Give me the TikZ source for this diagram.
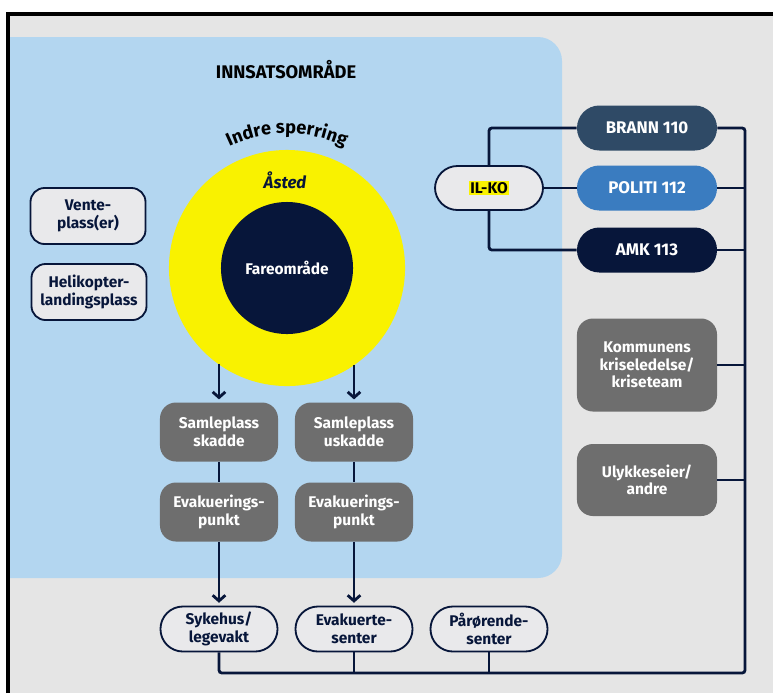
\documentclass[tikz,border=0pt]{standalone}
\usepackage{fontspec}
\setmainfont{Fira Sans}
\usepackage{xcolor}
\usepackage{tikz}
\usetikzlibrary{arrows.meta, positioning, calc, decorations.text}
\definecolor{marine}{RGB}{7,22,58}
\definecolor{lysblaa}{RGB}{179,214,240}
\definecolor{bakgrunn}{RGB}{229,229,229}
\definecolor{gulsone}{RGB}{249,242,0}
\definecolor{graaboks}{RGB}{110,110,110}
\definecolor{lysboks}{RGB}{233,233,235}
\definecolor{brannfarge}{RGB}{47,74,102}
\definecolor{politifarge}{RGB}{58,124,192}

\begin{document}
\begin{tikzpicture}[x=0.025cm, y=0.025cm,
      linje/.style={draw=marine, line width=2pt, rounded corners=2pt},
      pil/.style={linje, -{Straight Barb[length=4pt, width=9pt]}, shorten >=2pt},
      graa/.style={fill=graaboks, text=white, rounded corners=0.4cm,
                   minimum width=2.95cm, minimum height=1.475cm, align=center,
                   inner sep=2pt, font=\fontsize{11}{12.5}\selectfont\bfseries},
      lys/.style={fill=lysboks, draw=marine, line width=1.3pt, text=marine,
                  rounded corners=0.35cm, minimum width=2.875cm,
                  minimum height=1.4cm, align=center, inner sep=2pt,
                  font=\fontsize{11}{12.5}\selectfont\bfseries},
      pille/.style={lys, rounded corners=0.56cm, minimum width=2.925cm,
                    minimum height=1.125cm},
      tjeneste/.style={fill=#1, text=white, rounded corners=0.56cm,
                       minimum width=3.5cm, minimum height=1.125cm,
                       font=\fontsize{12}{14}\selectfont\bfseries}]
    \useasboundingbox (0,0) rectangle (773,-693);
    \fill[bakgrunn] (8,-14) rectangle (773,-693);
    \draw[line width=2.8pt] (8,-693) -- (8,-14) -- (773,-14);
    \fill[lysblaa] (10,-37) [rounded corners=0.6cm] -- (562,-37) -- (562,-578)
      [sharp corners] -- (10,-578) -- cycle;
    \node[font=\fontsize{13}{15}\selectfont\bfseries] (tittel) at (286,-70) {INNSATSOMRÅDE};

    \node[circle, fill=gulsone, minimum size=5.9cm, inner sep=0pt] (asted) at (287,-268) {};
    \node[circle, fill=marine, minimum size=3.3cm, inner sep=0pt, text=white,
          font=\fontsize{11}{13}\selectfont\bfseries] (fare) at (asted) {Fareområde};
    \node[font=\fontsize{12}{14}\selectfont\bfseries\itshape, text=marine] (astedtekst) at (285,-180) {Åsted};
    \path[decorate, decoration={text along path, text align=center,
          text={|\fontsize{13}{15}\selectfont\bfseries|Indre sperring}}]
      ($(asted)+(150:3.36cm)$) arc[start angle=150, end angle=30, radius=3.36cm];

    \node[lys] (vente) at (88,-216) {Vente-\\plass(er)};
    \node[lys] (heli) at (89,-292) {Helikopter-\\landingsplass};

    \node[graa] (samle1) at (219,-432) {Samleplass\\skadde};
    \node[graa] (samle2) at (354,-432) {Samleplass\\uskadde};
    \node[graa] (evak1) at (219,-512) {Evakuerings-\\punkt};
    \node[graa] (evak2) at (354,-512) {Evakuerings-\\punkt};

    \node[pille] (sykehus) at (219,-629) {Sykehus/\\legevakt};
    \node[pille] (evaksenter) at (354,-629) {Evakuerte-\\senter};
    \node[pille] (parorende) at (489,-629) {Pårørende-\\senter};

    \node[pille, minimum width=2.7cm, minimum height=1.1cm, text=black]
      (ilko) at (489,-188) {\setlength{\fboxsep}{1pt}\colorbox{gulsone}{IL-KO}};
    \node[tjeneste=brannfarge] (brann) at (647,-128) {BRANN 110};
    \node[tjeneste=politifarge] (politi) at (647,-188) {POLITI 112};
    \node[tjeneste=marine] (amk) at (647,-250) {AMK 113};
    \node[graa, minimum width=3.5cm, minimum height=2.325cm] (kommune) at (647,-365)
      {Kommunens\\kriseledelse/\\kriseteam};
    \node[graa, minimum width=3.5cm, minimum height=1.8cm] (ulykke) at (647,-480)
      {Ulykkeseier/\\andre};

    \coordinate (hjorne) at (745,-673);

    \draw[pil] (samle1.north |- asted.234.8) -- (samle1.north);
    \draw[pil] (samle2.north |- asted.-55.4) -- (samle2.north);
    \draw[linje] (samle1) -- (evak1);
    \draw[linje] (samle2) -- (evak2);
    \draw[pil] (evak1.south) -- (sykehus.north);
    \draw[pil] (evak2.south) -- (evaksenter.north);

    \draw[linje] (ilko.north) |- (brann.west);
    \draw[linje] (ilko.east) -- (politi.west);
    \draw[linje] (ilko.south) |- (amk.west);

    \draw[linje] (brann.east) -| (hjorne) -| (sykehus.south);
    \draw[linje] (politi.east) -- (politi.east -| hjorne);
    \draw[linje] (amk.east) -- (amk.east -| hjorne);
    \draw[linje] (kommune.east) -- (kommune.east -| hjorne);
    \draw[linje] (ulykke.east) -- (ulykke.east -| hjorne);
    \draw[linje] (evaksenter.south) -- (evaksenter.south |- hjorne);
    \draw[linje] (parorende.south) -- (parorende.south |- hjorne);
  \end{tikzpicture}
\end{document}
